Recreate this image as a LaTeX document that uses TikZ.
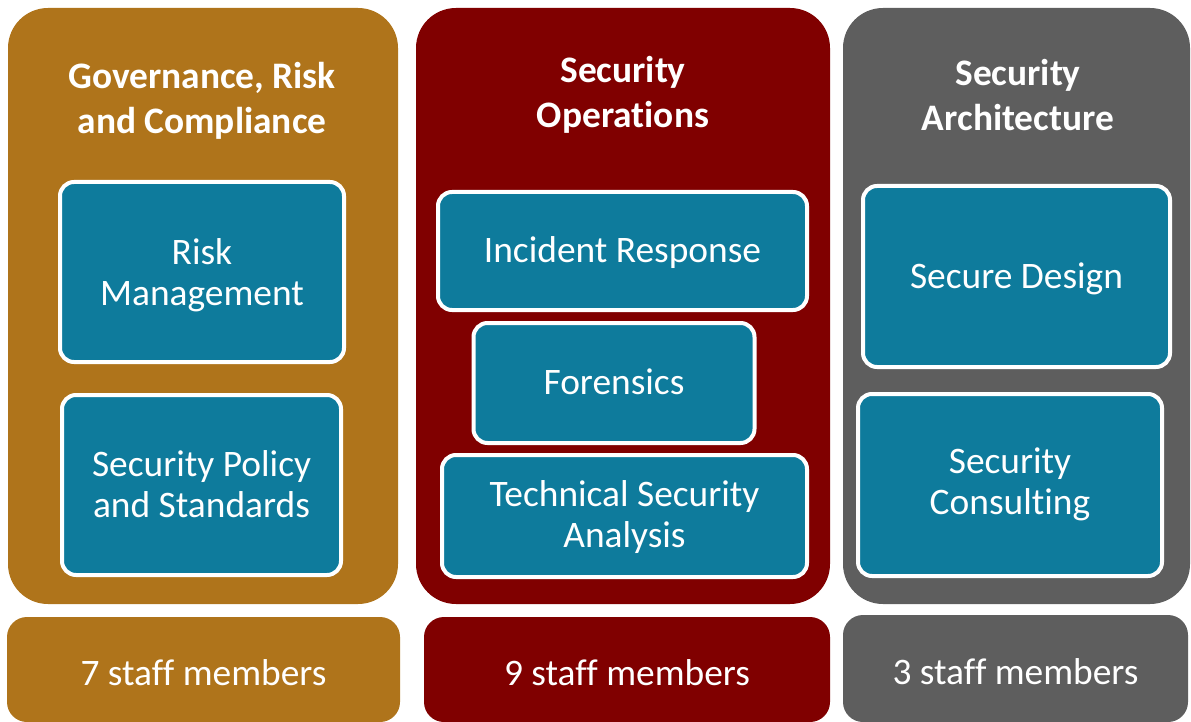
\documentclass[tikz,border=0pt]{standalone}
\usepackage{fontspec}
\setmainfont[Ligatures=NoCommon]{Carlito}
\definecolor{grcgold}{HTML}{AF741B}
\definecolor{opsred}{HTML}{800000}
\definecolor{archgray}{HTML}{5E5E5E}
\definecolor{unitteal}{HTML}{0E7B9C}
\begin{document}
\begin{tikzpicture}[x=1pt,y=-1pt,
  column/.style={fill=#1, rounded corners=40pt},
  staffbox/.style={fill=#1, rounded corners=20pt, inner sep=0pt},
  stafftext/.style={text=white, inner sep=0pt, font=\fontsize{37.4}{45}\selectfont},
  title/.style={text=white, align=center, font=\fontsize{37.4}{45}\selectfont\bfseries},
  unit/.style={fill=unitteal, draw=white, line width=4pt, rounded corners=14pt, inner sep=0pt},
  unittext/.style={text=white, align=center, inner sep=0pt, font=\fontsize{37.4}{41}\selectfont}]
\useasboundingbox (0,0) rectangle (1191,722);

% column panels
\fill[column=grcgold]  (8,8)   rectangle (398,604);
\fill[column=opsred]   (416,8) rectangle (830,604);
\fill[column=archgray] (843,8) rectangle (1190,604);

% column titles
\node[title] (tgrc)  at (202,101) {Governance, Risk\\and Compliance};
\node[title] (tops)  at (623,95)  {Security\\Operations};
\node[title] (tarch) at (1018,95) {Security\\Architecture};

% units of Governance, Risk and Compliance
\node[unit, minimum width=284pt, minimum height=180pt] (risk) at (202,272) {};
\node[unittext] (risk-t) at ([yshift=-3pt]risk.center) {Risk\\Management};
\node[unit, minimum width=279pt, minimum height=180pt] (policy) at (201.5,485) {};
\node[unittext] (policy-t) at ([yshift=1pt]policy.center) {Security Policy\\and Standards};

% units of Security Operations
\node[unit, minimum width=369pt, minimum height=118pt] (incident) at (622.5,251) {};
\node[unittext] (incident-t) at ([yshift=-2pt]incident.center) {Incident Response};
\node[unit, minimum width=281pt, minimum height=120pt] (forensics) at (614,383) {};
\node[unittext] (forensics-t) at ([yshift=1pt]forensics.center) {Forensics};
\node[unit, minimum width=365pt, minimum height=122pt] (tsa) at (624.5,516) {};
\node[unittext] (tsa-t) at ([yshift=-1pt]tsa.center) {Technical Security\\Analysis};

% units of Security Architecture
\node[unit, minimum width=307pt, minimum height=181pt] (design) at (1016.5,276.5) {};
\node[unittext] (design-t) at ([yshift=-2pt]design.center) {Secure Design};
\node[unit, minimum width=304pt, minimum height=182pt] (consult) at (1010,485) {};
\node[unittext] (consult-t) at ([yshift=1pt]consult.center) {Security\\Consulting};

% staff counts
\node[staffbox=grcgold,  minimum width=393pt, minimum height=105pt] (s1) at (203.5,669.5) {};
\node[stafftext] (s1-t) at ([yshift=-3pt]s1.center) {7 staff members};
\node[staffbox=opsred,   minimum width=406pt, minimum height=105pt] (s2) at (627,669.5) {};
\node[stafftext] (s2-t) at ([yshift=-3pt]s2.center) {9 staff members};
\node[staffbox=archgray, minimum width=345pt, minimum height=107pt] (s3) at (1015.5,668.5) {};
\node[stafftext] (s3-t) at ([yshift=-3pt]s3.center) {3 staff members};
\end{tikzpicture}
\end{document}
